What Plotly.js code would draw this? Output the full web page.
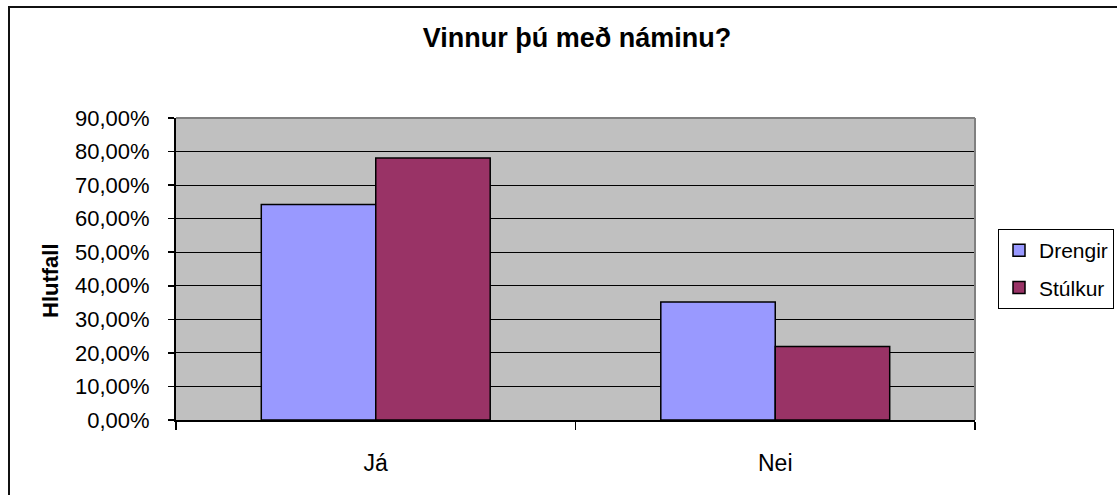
<!DOCTYPE html>
<html>
<head>
<meta charset="utf-8">
<script src="https://cdn.plot.ly/plotly-3.0.1.min.js"></script>
<style>
  html, body { margin: 0; padding: 0; background: #fff; overflow: hidden; }
  #chart { width: 1117px; height: 495px; }
  #frame { position: absolute; left: 8px; top: 6px; width: 1200px; height: 600px;
           border: 2px solid #111; pointer-events: none; box-sizing: border-box; }
</style>
</head>
<body>
<div id="chart"></div>
<div id="frame"></div>
<script>
const categories = ['Já', 'Nei'];
const drengir = [0.642, 0.352];
const stulkur = [0.781, 0.219];
const seriesNames = ['Drengir', 'Stúlkur'];
const yTickVals = [0, 0.1, 0.2, 0.3, 0.4, 0.5, 0.6, 0.7, 0.8, 0.9];

const FONT = 'Arial, "Liberation Sans", sans-serif';

const traces = [
  { type: 'bar', name: seriesNames[0], x: categories, y: drengir, legendgroup: 'a',
    marker: { color: '#9999FF', line: { color: '#000', width: 1.5 } }, hoverinfo: 'none' },
  { type: 'bar', name: seriesNames[1], x: categories, y: stulkur, legendgroup: 'b',
    marker: { color: '#993366', line: { color: '#000', width: 1.5 } }, hoverinfo: 'none' }
];

const layout = {
  width: 1117, height: 495,
  margin: { l: 176, r: 142, t: 118, b: 75 },
  paper_bgcolor: '#ffffff',
  plot_bgcolor: '#C0C0C0',
  separators: ', ',
  font: { family: FONT, color: '#000' },
  barmode: 'group',
  bargap: 0.427,
  bargroupgap: 0,
  title: { text: 'Vinnur þú með náminu?', font: { family: FONT, size: 27, weight: 'bold', color: '#000' },
           xref: 'container', x: 577/1117, xanchor: 'center', yref: 'container', y: 1 - 38/495, yanchor: 'middle' },
  xaxis: { type: 'category', showgrid: false, zeroline: false,
           showline: true, linecolor: '#000', linewidth: 2,
           ticks: 'outside', tickson: 'boundaries', ticklen: 8, tickwidth: 1.5, tickcolor: '#000',
           tickfont: { family: FONT, size: 23, color: '#000' }, ticklabelstandoff: 21 },
  yaxis: { range: [0, 0.9], tickvals: yTickVals, tickformat: '.2%',
           showgrid: true, gridcolor: '#000', gridwidth: 1, zeroline: false,
           showline: true, linecolor: '#000', linewidth: 2,
           ticks: 'outside', ticklen: 6, tickwidth: 1.5, tickcolor: '#000',
           tickfont: { family: FONT, size: 22, color: '#000' }, ticklabelstandoff: 14 },
  legend: { x: 998/1117, xref: 'container', xanchor: 'left', y: 1 - 229/495, yref: 'container', yanchor: 'top',
            bordercolor: '#000', borderwidth: 1, bgcolor: '#fff',
            font: { family: FONT, size: 21, color: '#000' }, tracegroupgap: 7, traceorder: 'grouped' },
  shapes: [
    { type: 'line', xref: 'paper', yref: 'paper', x0: 0, x1: 1, y0: 1, y1: 1, line: { color: '#808080', width: 2 }, layer: 'above' },
    { type: 'line', xref: 'paper', yref: 'paper', x0: 1, x1: 1, y0: 0, y1: 1, line: { color: '#808080', width: 2 }, layer: 'above' }
  ],
  annotations: [
    { text: 'Hlutfall', textangle: -90, showarrow: false, xref: 'paper', yref: 'paper',
      x: (50 - 176) / 799, y: (420 - 281) / 302, xanchor: 'center', yanchor: 'middle',
      font: { family: FONT, size: 22, weight: 'bold', color: '#000' } }
  ],
  showlegend: true
};

Plotly.newPlot('chart', traces, layout, { displayModeBar: false, staticPlot: true });
</script>
</body>
</html>
